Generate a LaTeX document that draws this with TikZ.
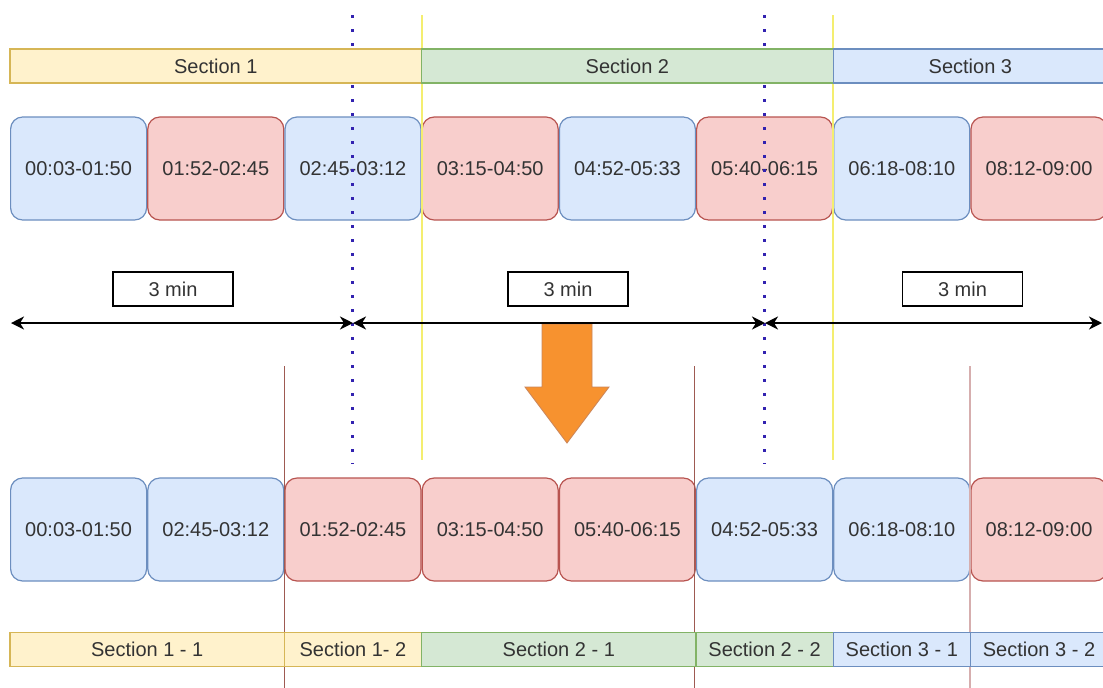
\documentclass[tikz,border=0pt]{standalone}
\usepackage{fontspec}
\setmainfont{Liberation Sans}
\usetikzlibrary{arrows.meta}

\definecolor{blueFill}{HTML}{DAE8FC}
\definecolor{blueLine}{HTML}{6C8EBF}
\definecolor{redFill}{HTML}{F8CECC}
\definecolor{redLine}{HTML}{B85450}
\definecolor{yelFill}{HTML}{FFF2CC}
\definecolor{yelLine}{HTML}{D6B656}
\definecolor{grnFill}{HTML}{D5E8D4}
\definecolor{grnLine}{HTML}{82B366}
\definecolor{txt}{HTML}{333333}
\definecolor{cutBlue}{HTML}{3222B0}
\definecolor{guideYellow}{HTML}{F4EE70}
\definecolor{splitBrown}{HTML}{9E5A52}
\definecolor{splitPink}{HTML}{D6AEAE}
\definecolor{arrowOrange}{HTML}{F7922F}
\definecolor{arrowEdge}{HTML}{C9845A}

\tikzset{
  lbl/.style={text=txt, font=\fontsize{10pt}{12pt}\selectfont},
  seg/.style={lbl, rectangle, draw, line width=0.6pt, inner sep=0pt,
              minimum height=17pt},
  clipbox/.style={lbl, rectangle, draw, line width=0.6pt, rounded corners=6pt,
                  inner sep=0pt, minimum width=68pt, minimum height=51.5pt},
  bluebox/.style={clipbox, fill=blueFill, draw=blueLine},
  redbox/.style={clipbox, fill=redFill, draw=redLine},
  yelseg/.style={seg, fill=yelFill, draw=yelLine},
  grnseg/.style={seg, fill=grnFill, draw=grnLine},
  bluseg/.style={seg, fill=blueFill, draw=blueLine},
  durbox/.style={lbl, rectangle, draw=black, line width=0.8pt, fill=white,
                 inner sep=0pt, minimum width=60pt, minimum height=17pt},
  span/.style={line width=1pt, black, {Stealth[length=6.5pt,width=6.5pt,inset=2pt]}-{Stealth[length=6.5pt,width=6.5pt,inset=2pt]}},
  cutline/.style={draw=cutBlue, line width=1.6pt, dash pattern=on 1.6pt off 5.4pt},
  guideline/.style={draw=guideYellow, line width=1pt},
  splitline/.style={draw=splitBrown, line width=0.8pt},
  faintsplit/.style={draw=splitPink, line width=1pt},
}

\begin{document}
\begin{tikzpicture}[x=0.5pt, y=-0.5pt]
\useasboundingbox (0,0) rectangle (1103,687);
\begin{scope}
\clip (0,0) rectangle (1103,687);

% original clip order
\node[bluebox] (t1) at (78.6,168.5)  {00:03-01:50};
\node[redbox]  (t2) at (215.8,168.5) {01:52-02:45};
\node[bluebox] (t3) at (353,168.5)   {02:45-03:12};
\node[redbox]  (t4) at (490.2,168.5) {03:15-04:50};
\node[bluebox] (t5) at (627.4,168.5) {04:52-05:33};
\node[redbox]  (t6) at (764.6,168.5) {05:40-06:15};
\node[bluebox] (t7) at (901.8,168.5) {06:18-08:10};
\node[redbox]  (t8) at (1039,168.5)  {08:12-09:00};

% reordered clips
\node[bluebox] (b1) at (78.6,529.5)  {00:03-01:50};
\node[bluebox] (b2) at (215.8,529.5) {02:45-03:12};
\node[redbox]  (b3) at (353,529.5)   {01:52-02:45};
\node[redbox]  (b4) at (490.2,529.5) {03:15-04:50};
\node[redbox]  (b5) at (627.4,529.5) {05:40-06:15};
\node[bluebox] (b6) at (764.6,529.5) {04:52-05:33};
\node[bluebox] (b7) at (901.8,529.5) {06:18-08:10};
\node[redbox]  (b8) at (1039,529.5)  {08:12-09:00};

% three-minute cut points
\coordinate (cut1top) at (352.5,15);
\coordinate (cut1bot) at (352.5,464);
\coordinate (cut2top) at (764.5,15);
\coordinate (cut2bot) at (764.5,464);
\draw[cutline] (cut1top) -- (cut1bot);
\draw[cutline] (cut2top) -- (cut2bot);

% section boundaries
\coordinate (sec12top) at (422,15);
\coordinate (sec12bot) at (422,460);
\coordinate (sec23top) at (833,15);
\coordinate (sec23bot) at (833,460);
\draw[guideline] (sec12top) -- (sec12bot);
\draw[guideline] (sec23top) -- (sec23bot);

% sub-section boundaries
\coordinate (sub1top) at (284.5,366);
\coordinate (sub1bot) at (284.5,690);
\coordinate (sub2top) at (694.5,366);
\coordinate (sub2bot) at (694.5,690);
\coordinate (sub3top) at (969.5,366);
\coordinate (sub3bot) at (969.5,690);
\draw[splitline] (sub1top) -- (sub1bot);
\draw[splitline] (sub2top) -- (sub2bot);
\draw[faintsplit] (sub3top) -- (sub3bot);

% sections
\node[yelseg, minimum width=205.8pt] (s1) at (215.8,66) {Section 1};
\node[grnseg, minimum width=205.8pt] (s2) at (627.4,66) {Section 2};
\node[bluseg, minimum width=137.2pt] (s3) at (970.4,66) {Section 3};

% sub-sections
\node[yelseg, minimum width=137.2pt] (s11) at (147.2,649.5) {Section 1 - 1};
\node[yelseg, minimum width=68.6pt]  (s12) at (353,649.5)   {Section 1- 2};
\node[grnseg, minimum width=137.2pt] (s21) at (558.8,649.5) {Section 2 - 1};
\node[grnseg, minimum width=68.6pt]  (s22) at (764.6,649.5) {Section 2 - 2};
\node[bluseg, minimum width=68.6pt]  (s31) at (901.8,649.5) {Section 3 - 1};
\node[bluseg, minimum width=68.6pt]  (s32) at (1039,649.5)  {Section 3 - 2};

% duration labels
\node[durbox] (d1) at (173,289)   {3 min};
\node[durbox] (d2) at (568,289)   {3 min};
\node[durbox] (d3) at (962.5,289) {3 min};

% orange transition arrow
\draw[fill=arrowOrange, draw=arrowEdge, line width=0.4pt]
  (542,324) -- (542,387) -- (525,387) -- (567,443) -- (609,387)
  -- (592,387) -- (592,324) -- cycle;

% three-minute spans
\coordinate (a0) at (11,323);
\coordinate (a1) at (353,323);
\coordinate (b0) at (353,323);
\coordinate (b1) at (765,323);
\coordinate (c0) at (765,323);
\coordinate (c1) at (1102,323);
\draw[span] (a0) -- (a1);
\draw[span] (b0) -- (b1);
\draw[span] (c0) -- (c1);
\end{scope}
\end{tikzpicture}
\end{document}
